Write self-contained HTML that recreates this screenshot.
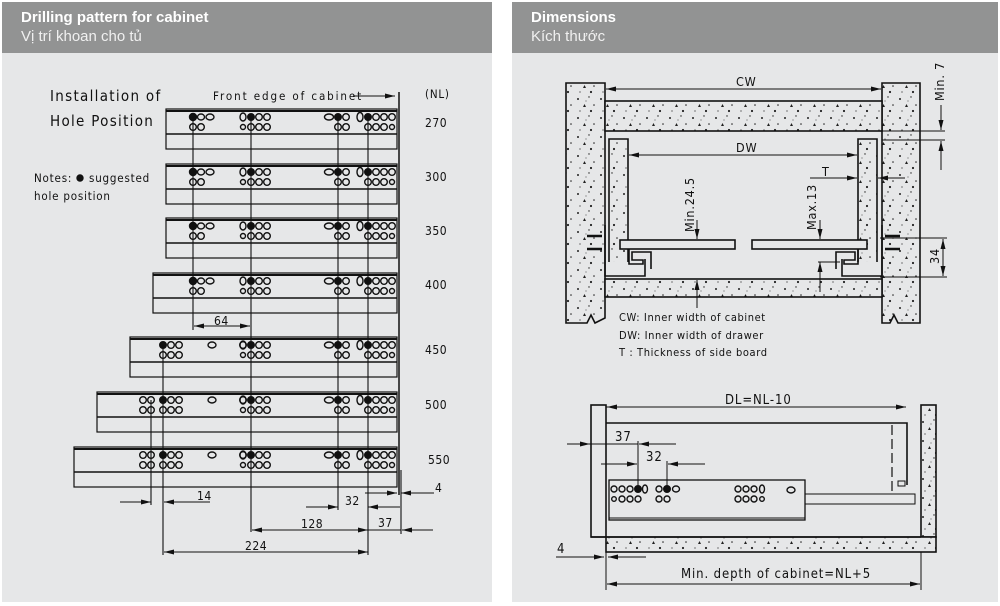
<!DOCTYPE html>
<html><head><meta charset="utf-8"><style>
body{margin:0;background:#fff;width:1000px;height:606px;overflow:hidden;font-family:"Liberation Sans",sans-serif}
.p{position:absolute;top:2px;background:#e6e7e8;height:600px}
.h{background:#929393;height:51px;color:#fff;padding-left:19px;box-sizing:border-box;padding-top:7px}
.h b{display:block;font-size:15px;font-weight:bold;line-height:18px}
.h span{display:block;font-size:15px;line-height:19px;color:#f0f0f0}
svg{position:absolute;left:0;top:0}
</style></head><body>
<div class="p" style="left:2px;width:490px"><div class="h"><b>Drilling pattern for cabinet</b><span>Vị trí khoan cho tủ</span></div></div>
<div class="p" style="left:512px;width:486px"><div class="h"><b>Dimensions</b><span>Kích thước</span></div></div>
<svg width="1000" height="606" viewBox="0 0 1000 606" font-family="'Liberation Sans Narrow','DejaVu Sans Condensed','Liberation Sans',sans-serif" fill="none" stroke="#111" stroke-width="1">
<defs>
<marker id="a" viewBox="0 0 10 6" refX="10" refY="3" markerWidth="10" markerHeight="6" orient="auto" markerUnits="userSpaceOnUse"><path d="M0,0.5L10,3L0,5.5z" fill="#111" stroke="none"/></marker>
<pattern id="c" width="23" height="19" patternUnits="userSpaceOnUse"><rect width="23" height="19" fill="#e6e7e8" stroke="none"/><g fill="#222" stroke="none"><circle cx="3" cy="4" r="1"/><circle cx="14" cy="2" r=".7"/><path d="M8,12l3,0l-1.5,-3z"/><circle cx="19" cy="10" r=".8"/><circle cx="5" cy="16" r=".6"/><circle cx="16" cy="16" r="1.1"/><circle cx="11" cy="6" r=".5"/></g></pattern>
<g id="hr" stroke-width="1.4">
<circle cx="193" cy="8" r="3.5" fill="#111"/><ellipse cx="201" cy="8" rx="3.5" ry="3"/><ellipse cx="210" cy="8" rx="4" ry="3"/>
<circle cx="193" cy="18" r="3.3"/><circle cx="201" cy="18" r="3.3"/>
<ellipse cx="243" cy="8" rx="3" ry="4"/><circle cx="251" cy="8" r="3.3" fill="#111"/><circle cx="259" cy="8" r="3.3"/><circle cx="267" cy="8" r="3.3"/>
<circle cx="243" cy="18" r="2.5"/><circle cx="251" cy="18" r="3.3"/><circle cx="259" cy="18" r="3.3"/><circle cx="267" cy="18" r="3.3"/>
<ellipse cx="329" cy="8" rx="4.5" ry="3"/><circle cx="338" cy="8" r="3.3" fill="#111"/><circle cx="346" cy="8" r="3.3"/>
<circle cx="338" cy="18" r="3.3"/><circle cx="346" cy="18" r="3.3"/>
<ellipse cx="360" cy="8" rx="3" ry="4.5"/><circle cx="368" cy="8" r="3.3" fill="#111"/><circle cx="376" cy="8" r="3.3"/><circle cx="384" cy="8" r="3.3"/><circle cx="392" cy="8" r="3.3"/>
<circle cx="368" cy="18" r="3.3"/><circle cx="376" cy="18" r="3.3"/><circle cx="384" cy="18" r="3.3"/><circle cx="392" cy="18" r="2.5"/>
</g>
<g id="hl" stroke-width="1.4">
<circle cx="163" cy="8" r="3.3" fill="#111"/><circle cx="171" cy="8" r="3.3"/><circle cx="179" cy="8" r="3.3"/>
<circle cx="163" cy="18" r="3.3"/><circle cx="171" cy="18" r="3.3"/><circle cx="179" cy="18" r="3.3"/>
<ellipse cx="212" cy="8" rx="4" ry="3"/>
<circle cx="243" cy="8" r="3.3"/><circle cx="259" cy="8" r="3.3"/>
</g>
<g id="hx" stroke-width="1.4"><circle cx="143" cy="8" r="3.3"/><circle cx="151" cy="8" r="3.3"/><circle cx="143" cy="18" r="3.3"/><circle cx="151" cy="18" r="3.3"/></g>
<g id="hm" stroke-width="1.4"><ellipse cx="243" cy="8" rx="3" ry="4"/><circle cx="251" cy="8" r="3.3" fill="#111"/><circle cx="267" cy="8" r="3.3"/><circle cx="251" cy="18" r="3.3"/><circle cx="259" cy="18" r="3.3"/><circle cx="267" cy="18" r="3.3"/><circle cx="243" cy="18" r="2.5"/><ellipse cx="329" cy="8" rx="4.5" ry="3"/><circle cx="338" cy="8" r="3.3" fill="#111"/><circle cx="346" cy="8" r="3.3"/><circle cx="338" cy="18" r="3.3"/><circle cx="346" cy="18" r="3.3"/><ellipse cx="360" cy="8" rx="3" ry="4.5"/><circle cx="368" cy="8" r="3.3" fill="#111"/><circle cx="376" cy="8" r="3.3"/><circle cx="384" cy="8" r="3.3"/><circle cx="392" cy="8" r="3.3"/><circle cx="368" cy="18" r="3.3"/><circle cx="376" cy="18" r="3.3"/><circle cx="384" cy="18" r="3.3"/><circle cx="392" cy="18" r="2.5"/></g>
</defs>

<!-- LEFT drawing -->
<g fill="#111" stroke="none" font-size="15" letter-spacing="1.3"><text x="50" y="101">Installation of</text><text x="50" y="126">Hole Position</text></g>
<g fill="#111" stroke="none" font-size="11.5" letter-spacing="0.8"><text x="213" y="100" letter-spacing="1.9">Front edge of cabinet</text><text x="425" y="98">(NL)</text>
<text x="34" y="182">Notes:</text><circle cx="80" cy="178" r="3.7"/><text x="89" y="182">suggested</text><text x="34" y="200">hole position</text>
<g font-size="12" letter-spacing="0.5"><text x="425" y="127">270</text><text x="425" y="181">300</text><text x="425" y="235">350</text><text x="425" y="289">400</text><text x="425" y="354">450</text><text x="425" y="409">500</text><text x="428" y="464">550</text>
<text x="214" y="325">64</text><text x="197" y="500">14</text><text x="345" y="505">32</text><text x="435" y="492">4</text><text x="301" y="528">128</text><text x="378" y="527">37</text><text x="245" y="550">224</text></g></g>
<line x1="353" y1="96" x2="395" y2="96" marker-end="url(#a)"/>
<g stroke-width="1.2">
<g transform="translate(0,109)"><rect x="166" y="0" width="231" height="40"/><line x1="166" y1="2" x2="397" y2="2" stroke-width="2"/><line x1="166" y1="25" x2="397" y2="25" stroke-width="1.6"/><use href="#hr"/></g>
<g transform="translate(0,164)"><rect x="166" y="0" width="231" height="40"/><line x1="166" y1="2" x2="397" y2="2" stroke-width="2"/><line x1="166" y1="25" x2="397" y2="25" stroke-width="1.6"/><use href="#hr"/></g>
<g transform="translate(0,218)"><rect x="166" y="0" width="231" height="40"/><line x1="166" y1="2" x2="397" y2="2" stroke-width="2"/><line x1="166" y1="25" x2="397" y2="25" stroke-width="1.6"/><use href="#hr"/></g>
<g transform="translate(0,273)"><rect x="153" y="0" width="244" height="40"/><line x1="153" y1="2" x2="397" y2="2" stroke-width="2"/><line x1="153" y1="25" x2="397" y2="25" stroke-width="1.6"/><use href="#hr"/></g>
<g transform="translate(0,337)"><rect x="130" y="0" width="267" height="40"/><line x1="130" y1="2" x2="397" y2="2" stroke-width="2"/><line x1="130" y1="25" x2="397" y2="25" stroke-width="1.6"/><use href="#hl"/><use href="#hm"/></g>
<g transform="translate(0,392)"><rect x="97" y="0" width="300" height="40"/><line x1="97" y1="2" x2="397" y2="2" stroke-width="2"/><line x1="97" y1="25" x2="397" y2="25" stroke-width="1.6"/><use href="#hl"/><use href="#hx"/><use href="#hm"/></g>
<g transform="translate(0,447)"><rect x="74" y="0" width="323" height="40"/><line x1="74" y1="2" x2="397" y2="2" stroke-width="2"/><line x1="74" y1="25" x2="397" y2="25" stroke-width="1.6"/><use href="#hl"/><use href="#hx"/><use href="#hm"/></g>
</g>
<!-- verticals -->
<g stroke-width="1.1">
<line x1="193" y1="117" x2="193" y2="330"/><line x1="251" y1="117" x2="251" y2="532"/><line x1="338" y1="117" x2="338" y2="510"/><line x1="368" y1="117" x2="368" y2="555"/>
<line x1="163" y1="345" x2="163" y2="555"/><line x1="151" y1="400" x2="151" y2="505"/>
<line x1="399" y1="92" x2="399" y2="495" stroke-width="1.5"/><line x1="401" y1="470" x2="401" y2="534"/>
</g>
<g stroke-width="1">
<line x1="250" y1="326" x2="194" y2="326" marker-end="url(#a)"/><line x1="194" y1="326" x2="250" y2="326" marker-end="url(#a)"/>
<line x1="120" y1="502" x2="151" y2="502" marker-end="url(#a)"/><line x1="210" y1="502" x2="164" y2="502" marker-end="url(#a)"/>
<line x1="306" y1="507" x2="338" y2="507" marker-end="url(#a)"/><line x1="400" y1="507" x2="368" y2="507" marker-end="url(#a)"/>
<line x1="365" y1="493" x2="397" y2="493" marker-end="url(#a)"/><line x1="434" y1="493" x2="401" y2="493" marker-end="url(#a)"/>
<line x1="252" y1="530" x2="368" y2="530" marker-end="url(#a)"/><line x1="368" y1="530" x2="252" y2="530" marker-end="url(#a)"/>
<line x1="368" y1="530" x2="401" y2="530"/><line x1="433" y1="530" x2="402" y2="530" marker-end="url(#a)"/>
<line x1="164" y1="552" x2="368" y2="552" marker-end="url(#a)"/><line x1="368" y1="552" x2="164" y2="552" marker-end="url(#a)"/>
</g>

<!-- RIGHT top drawing -->
<g stroke-width="1.6">
<path d="M566,83H605V318L595,323L591,315L587,323L566,323Z" fill="url(#c)"/>
<path d="M882,83H920V323L898,323L894,315L890,323L882,323Z" fill="url(#c)"/>
<rect x="605" y="101" width="277" height="30" fill="url(#c)"/>
<rect x="605" y="279" width="277" height="18" fill="url(#c)"/>
<path d="M609,262V139H628V262" fill="url(#c)"/>
<path d="M877,262V139H858V262" fill="url(#c)"/>
<rect x="620" y="240" width="115" height="9" fill="#e6e7e8"/>
<rect x="752" y="240" width="115" height="9" fill="#e6e7e8"/>
<path d="M605,225V276H645V259"/><path d="M629,249V264H643V260H632V252H651V269"/>
<path d="M882,225V276H842V259"/><path d="M858,249V264H844V260H855V252H836V269"/>
</g>
<g stroke-width="2.5"><line x1="602" y1="236" x2="587" y2="236"/><line x1="602" y1="249" x2="587" y2="249"/><line x1="885" y1="236" x2="900" y2="236"/><line x1="885" y1="249" x2="900" y2="249"/></g>
<g stroke-width="1">
<line x1="606" y1="89" x2="881" y2="89" marker-end="url(#a)"/><line x1="881" y1="89" x2="606" y2="89" marker-end="url(#a)"/>
<line x1="629" y1="155" x2="857" y2="155" marker-end="url(#a)"/><line x1="857" y1="155" x2="629" y2="155" marker-end="url(#a)"/>
<line x1="810" y1="178" x2="857" y2="178" marker-end="url(#a)"/><line x1="905" y1="178" x2="878" y2="178" marker-end="url(#a)"/>
<line x1="882" y1="131" x2="945" y2="131"/><line x1="882" y1="140" x2="945" y2="140"/>
<line x1="941" y1="105" x2="941" y2="130" marker-end="url(#a)"/><line x1="941" y1="170" x2="941" y2="141" marker-end="url(#a)"/>
<line x1="697" y1="220" x2="697" y2="239" marker-end="url(#a)"/><line x1="697" y1="308" x2="697" y2="280" marker-end="url(#a)"/>
<line x1="820" y1="220" x2="820" y2="239" marker-end="url(#a)"/><line x1="820" y1="292" x2="820" y2="262" marker-end="url(#a)"/><line x1="818" y1="262" x2="840" y2="262"/>
<line x1="880" y1="238" x2="947" y2="238"/><line x1="880" y1="277" x2="947" y2="277"/>
<line x1="943" y1="239" x2="943" y2="276" marker-end="url(#a)"/><line x1="943" y1="276" x2="943" y2="239" marker-end="url(#a)"/>
</g>
<g fill="#111" stroke="none" font-size="12.5" letter-spacing="0.8">
<text x="736" y="86">CW</text><text x="736" y="152">DW</text><text x="822" y="176">T</text>
<text transform="translate(944,101) rotate(-90)">Min. 7</text>
<text transform="translate(694,232) rotate(-90)">Min.24.5</text>
<text transform="translate(816,230) rotate(-90)">Max.13</text>
<text transform="translate(939,264) rotate(-90)">34</text>
<g font-size="11" letter-spacing="0.6"><text x="619" y="321">CW: Inner width of cabinet</text><text x="619" y="339">DW: Inner width of drawer</text><text x="619" y="356">T : Thickness of side board</text></g>
</g>

<!-- RIGHT bottom drawing -->
<g stroke-width="1.6">
<rect x="591" y="405" width="15" height="132" fill="#e6e7e8"/>
<path d="M606,423H907V485"/>
<rect x="921" y="405" width="15" height="132" fill="url(#c)"/>
<rect x="606" y="537" width="330" height="15" fill="url(#c)"/>
<line x1="591" y1="537" x2="921" y2="537"/>
</g>
<line x1="892" y1="425" x2="892" y2="492" stroke-dasharray="10,4" stroke-width="1.2"/>
<rect x="898" y="481" width="7" height="5" stroke-width="1"/>
<rect x="805" y="494" width="110" height="10" stroke-width="1"/>
<rect x="609" y="480" width="196" height="40" stroke-width="1.3" fill="#e6e7e8"/>
<line x1="609" y1="518" x2="805" y2="518"/>
<g stroke-width="1.4">
<circle cx="614" cy="489" r="3"/><circle cx="622" cy="489" r="3"/><circle cx="630" cy="489" r="3"/><circle cx="638" cy="489" r="3.3" fill="#111"/><ellipse cx="645" cy="489" rx="2.5" ry="4"/>
<circle cx="614" cy="499" r="2.3"/><circle cx="622" cy="499" r="3"/><circle cx="630" cy="499" r="3"/><circle cx="638" cy="499" r="3"/>
<circle cx="659" cy="489" r="3"/><circle cx="667" cy="489" r="3.3" fill="#111"/><ellipse cx="676" cy="489" rx="3.5" ry="3"/><circle cx="659" cy="499" r="3"/><circle cx="667" cy="499" r="3"/>
<circle cx="738" cy="489" r="3"/><circle cx="746" cy="489" r="3"/><circle cx="754" cy="489" r="3"/><ellipse cx="762" cy="489" rx="2.5" ry="4"/>
<circle cx="738" cy="499" r="3"/><circle cx="746" cy="499" r="3"/><circle cx="754" cy="499" r="3"/><circle cx="762" cy="499" r="2.3"/>
<ellipse cx="791" cy="490" rx="4" ry="3"/>
</g>
<g stroke-width="1">
<line x1="638" y1="441" x2="638" y2="487"/><line x1="667" y1="461" x2="667" y2="487"/>
<line x1="606" y1="407" x2="906" y2="407" marker-end="url(#a)"/><line x1="906" y1="407" x2="607" y2="407" marker-end="url(#a)"/>
<line x1="567" y1="444" x2="590" y2="444" marker-end="url(#a)"/><line x1="676" y1="444" x2="639" y2="444" marker-end="url(#a)"/><line x1="590" y1="444" x2="638" y2="444"/>
<line x1="601" y1="464" x2="637" y2="464" marker-end="url(#a)"/><line x1="705" y1="464" x2="668" y2="464" marker-end="url(#a)"/>
<line x1="556" y1="557" x2="604" y2="557" marker-end="url(#a)"/><line x1="646" y1="557" x2="608" y2="557" marker-end="url(#a)"/>
<line x1="606" y1="537" x2="606" y2="590"/><line x1="921" y1="552" x2="921" y2="590"/>
<line x1="607" y1="584" x2="920" y2="584" marker-end="url(#a)"/><line x1="920" y1="584" x2="607" y2="584" marker-end="url(#a)"/>
</g>
<g fill="#111" stroke="none" font-size="13" letter-spacing="0.9">
<text x="725" y="404">DL=NL-10</text><text x="615" y="441">37</text><text x="646" y="461">32</text><text x="557" y="553">4</text><text x="681" y="578">Min. depth of cabinet=NL+5</text>
</g>
</svg>
</body></html>
